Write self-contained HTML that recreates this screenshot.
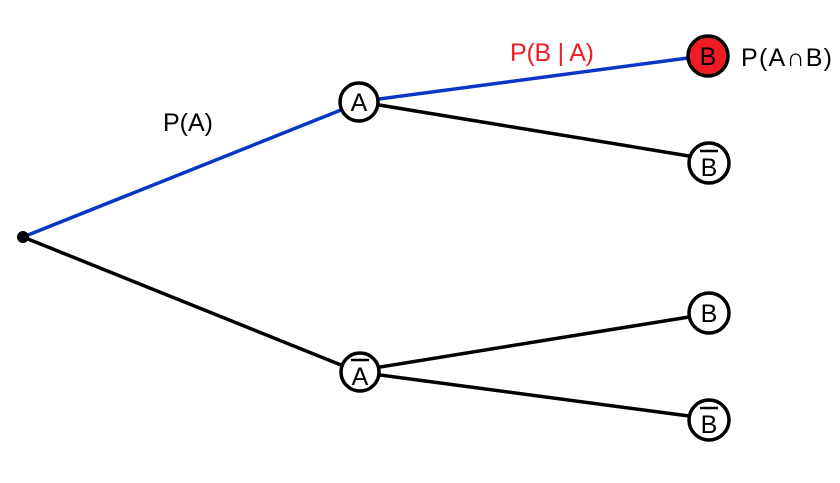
<!DOCTYPE html>
<html><head><style>body{margin:0;background:#fff}svg{display:block}</style></head><body>
<svg width="840" height="483" viewBox="0 0 840 483" xmlns="http://www.w3.org/2000/svg" font-family="Liberation Sans, DejaVu Sans, sans-serif">
<g stroke-width="3.5" fill="none" stroke-linecap="round">
<line x1="23" y1="237" x2="341" y2="110" stroke="#0a36c8"/>
<line x1="23" y1="237" x2="341" y2="365" stroke="#000"/>
<line x1="379" y1="99" x2="688" y2="58" stroke="#0a36c8"/>
<line x1="379" y1="105" x2="689" y2="156" stroke="#000"/>
<line x1="380" y1="367" x2="689" y2="317" stroke="#000"/>
<line x1="380" y1="375" x2="689" y2="416" stroke="#000"/>
</g>
<circle cx="23" cy="237" r="6" fill="#000"/>
<g stroke="#000" stroke-width="3.5">
<circle cx="359" cy="102" r="19" fill="#fff"/>
<circle cx="360" cy="372" r="19" fill="#fff"/>
<circle cx="708" cy="56" r="20" fill="#ee1c25"/>
<circle cx="709" cy="163" r="20" fill="#fff"/>
<circle cx="709" cy="313" r="20" fill="#fff"/>
<circle cx="709" cy="420" r="20" fill="#fff"/>
</g>
<g stroke="#000" stroke-width="2.5">
<line x1="351" y1="360" x2="369" y2="360"/>
<line x1="700" y1="151" x2="718" y2="151"/>
<line x1="700" y1="408" x2="718" y2="408"/>
</g>
<g font-size="25" text-anchor="middle" fill="#000">
<text x="359" y="111">A</text>
<text x="360" y="385">A</text>
<text x="708" y="65">B</text>
<text x="709" y="176">B</text>
<text x="709" y="322">B</text>
<text x="709" y="433">B</text>
</g>
<text x="163" y="131" font-size="25" fill="#000">P(A)</text>
<text x="510" y="61" font-size="25" fill="#ee1c25" textLength="84">P(B | A)</text>
<text x="741" y="66" font-size="25" fill="#000" textLength="91">P(A∩B)</text>
</svg>
</body></html>
